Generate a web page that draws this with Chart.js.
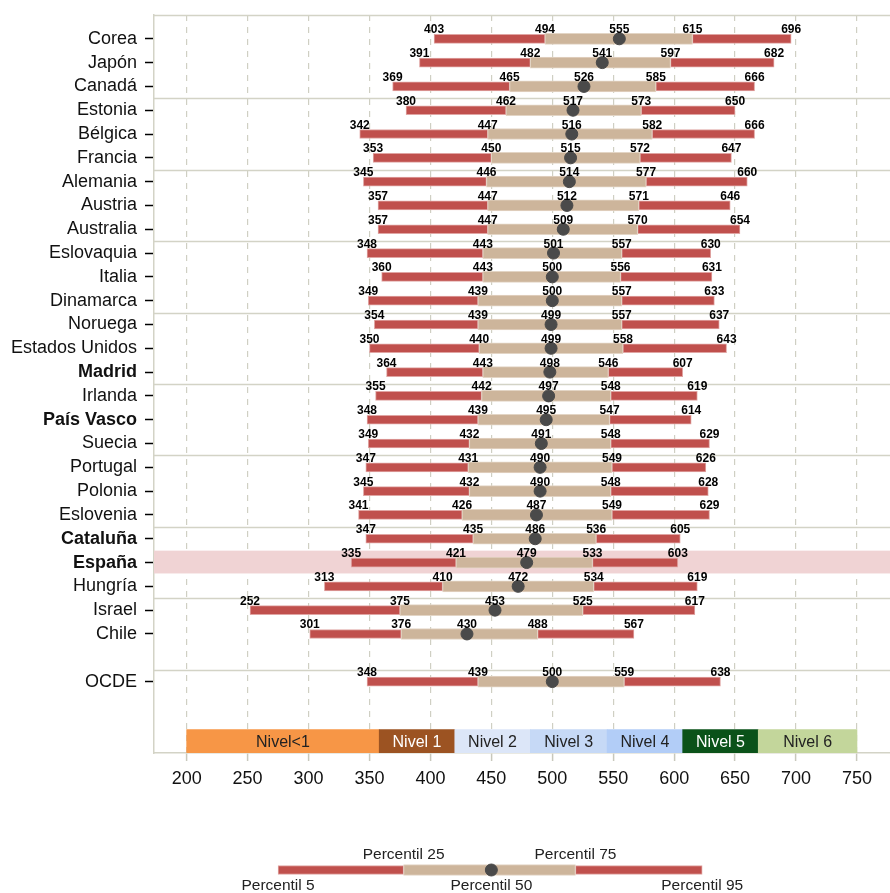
<!DOCTYPE html>
<html>
<head>
<meta charset="utf-8">
<script src="https://cdn.jsdelivr.net/npm/chart.js@4.4.1/dist/chart.umd.min.js"></script>
<style>
    html, body { margin: 0; padding: 0; background: #fff; }
    #wrap { position: relative; width: 890px; height: 893px; }
    #mainChart { position: absolute; left: 0; top: 0; }
    #legendChart { position: absolute; left: 0; top: 840px; }
</style>
</head>
<body>
<div id="wrap">
    <canvas id="mainChart" width="890" height="893"></canvas>
    <canvas id="legendChart" width="890" height="53"></canvas>
</div>
<script>
// Data
const countries = ['Corea', 'Japón', 'Canadá', 'Estonia', 'Bélgica', 'Francia', 'Alemania', 'Austria', 'Australia',
    'Eslovaquia', 'Italia', 'Dinamarca', 'Noruega', 'Estados Unidos', 'Madrid', 'Irlanda', 'País Vasco', 'Suecia',
    'Portugal', 'Polonia', 'Eslovenia', 'Cataluña', 'España', 'Hungría', 'Israel', 'Chile', 'OCDE'];
const rowPos = [0, 1, 2, 3, 4, 5, 6, 7, 8, 9, 10, 11, 12, 13, 14, 15, 16, 17, 18, 19, 20, 21, 22, 23, 24, 25, 27];
const boldRows = ['Madrid', 'País Vasco', 'Cataluña', 'España'];

const p5  = [403, 391, 369, 380, 342, 353, 345, 357, 357, 348, 360, 349, 354, 350, 364, 355, 348, 349, 347, 345, 341, 347, 335, 313, 252, 301, 348];
const p25 = [494, 482, 465, 462, 447, 450, 446, 447, 447, 443, 443, 439, 439, 440, 443, 442, 439, 432, 431, 432, 426, 435, 421, 410, 375, 376, 439];
const p50 = [555, 541, 526, 517, 516, 515, 514, 512, 509, 501, 500, 500, 499, 499, 498, 497, 495, 491, 490, 490, 487, 486, 479, 472, 453, 430, 500];
const p75 = [615, 597, 585, 573, 582, 572, 577, 571, 570, 557, 556, 557, 557, 558, 546, 548, 547, 548, 549, 548, 549, 536, 533, 534, 525, 488, 559];
const p95 = [696, 682, 666, 650, 666, 647, 660, 646, 654, 630, 631, 633, 637, 643, 607, 619, 614, 629, 626, 628, 629, 605, 603, 619, 617, 567, 638];

const levelNames = ['Nivel<1', 'Nivel 1', 'Nivel 2', 'Nivel 3', 'Nivel 4', 'Nivel 5', 'Nivel 6'];
const levelCuts = [200, 358, 420, 482, 545, 607, 669, 750];
const levelColors = ['#f79646', '#9c5322', '#dce6f8', '#c6d9f6', '#b2cdf7', '#0a5219', '#c3d69b'];
const levelTextColors = ['#222', '#fff', '#222', '#222', '#222', '#fff', '#222'];
const levelRow = 29.5;

const separatorRows = [-1, 2.5, 5.5, 8.5, 11.5, 14.5, 17.5, 20.5, 23.5, 26.5];
const xTicks = [200, 250, 300, 350, 400, 450, 500, 550, 600, 650, 700, 750];

const legendLabels = ['Percentil 5', 'Percentil 25', 'Percentil 50', 'Percentil 75', 'Percentil 95'];
const legendValues = [275, 378, 450, 519, 623];

const RED = '#c0504d';
const TAN = '#cdb59b';
const DOT = '#4a4a4a';
const FONT = '"Liberation Sans", Arial, sans-serif';
const X_MIN = 173.2, X_MAX = 777.1;

// background stuff: España highlight, top border, group separators
const backdrop = {
    id: 'backdrop',
    beforeDatasetsDraw(chart) {
        const { ctx, chartArea, scales: { y } } = chart;
        const i = countries.indexOf('España');
        const yc = y.getPixelForValue(rowPos[i]);
        const h = Math.abs(y.getPixelForValue(1) - y.getPixelForValue(0));
        ctx.save();
        ctx.fillStyle = '#f0d3d4';
        ctx.fillRect(chartArea.left, yc - h / 2, chartArea.right - chartArea.left, h - 1);
        ctx.strokeStyle = '#d3d3c6';
        ctx.lineWidth = 1.5;
        separatorRows.forEach(r => {
            const py = Math.round(y.getPixelForValue(r)) + 0.5;
            ctx.beginPath();
            ctx.moveTo(chartArea.left, py);
            ctx.lineTo(chartArea.right, py);
            ctx.stroke();
        });
        ctx.restore();
    }
};

// value labels above every bar + text in the level band
const valueLabels = {
    id: 'valueLabels',
    afterDatasetsDraw(chart) {
        const { ctx, scales: { x, y } } = chart;
        ctx.save();
        ctx.font = 'bold 12px ' + FONT;
        ctx.fillStyle = '#000';
        ctx.textAlign = 'center';
        ctx.textBaseline = 'alphabetic';
        countries.forEach((c, i) => {
            const py = y.getPixelForValue(rowPos[i]) - 5.5;
            [p5[i], p25[i], p50[i], p75[i], p95[i]].forEach(v => {
                ctx.fillText(String(v), x.getPixelForValue(v), py);
            });
        });
        ctx.font = '16px ' + FONT;
        ctx.textBaseline = 'middle';
        const ly = y.getPixelForValue(levelRow);
        levelNames.forEach((n, k) => {
            const cx = (x.getPixelForValue(levelCuts[k]) + x.getPixelForValue(levelCuts[k + 1])) / 2;
            ctx.fillStyle = levelTextColors[k];
            ctx.fillText(n, cx, ly + 1);
        });
        ctx.restore();
    }
};

function barData(lo, hi) {
    return countries.map((c, i) => ({ x: [lo[i], hi[i]], y: rowPos[i] }));
}

new Chart(document.getElementById('mainChart'), {
    type: 'bar',
    data: {
        datasets: [
            {
                label: 'P5-P25',
                data: barData(p5, p25),
                backgroundColor: RED,
                borderColor: '#e0a5a3',
                borderWidth: 1,
                borderSkipped: false,
                barThickness: 9,
                grouped: false,
                order: 3
            },
            {
                label: 'P75-P95',
                data: barData(p75, p95),
                backgroundColor: RED,
                borderColor: '#e0a5a3',
                borderWidth: 1,
                borderSkipped: false,
                barThickness: 9,
                grouped: false,
                order: 3
            },
            {
                label: 'P25-P75',
                data: barData(p25, p75),
                backgroundColor: TAN,
                borderColor: '#e3d5c5',
                borderWidth: 1,
                borderSkipped: false,
                barThickness: 11,
                grouped: false,
                order: 2
            },
            {
                type: 'scatter',
                label: 'P50',
                data: countries.map((c, i) => ({ x: p50[i], y: rowPos[i] })),
                backgroundColor: DOT,
                borderColor: DOT,
                pointRadius: 6,
                pointHoverRadius: 6,
                order: 1
            },
            {
                label: 'Niveles',
                data: levelNames.map((n, k) => ({ x: [levelCuts[k], levelCuts[k + 1]], y: levelRow })),
                backgroundColor: levelColors,
                borderWidth: 0,
                barThickness: 23,
                grouped: false,
                order: 4
            }
        ]
    },
    options: {
        indexAxis: 'y',
        responsive: false,
        animation: false,
        layout: { autoPadding: false, padding: { top: 15, left: 0, right: 0, bottom: 0 } },
        plugins: {
            legend: { display: false },
            tooltip: { enabled: false }
        },
        scales: {
            x: {
                type: 'linear',
                position: 'bottom',
                min: X_MIN,
                max: X_MAX,
                offset: false,
                afterBuildTicks: s => { s.ticks = xTicks.map(v => ({ value: v })); },
                afterFit: s => { s.height = 140; s.paddingLeft = 0; s.paddingRight = 0; },
                ticks: {
                    callback: v => String(v),
                    font: { size: 18, family: FONT },
                    color: '#111',
                    padding: 7,
                    maxRotation: 0
                },
                grid: {
                    offset: false,
                    color: '#cfcfc3',
                    lineWidth: 1.2,
                    tickColor: '#c8c8bc',
                    tickLength: 8,
                    tickWidth: 1.5
                },
                border: { display: true, color: '#d3d3c6', width: 1.5, dash: [6, 6] }
            },
            y: {
                type: 'linear',
                reverse: true,
                min: -1,
                max: 30,
                offset: false,
                afterBuildTicks: s => { s.ticks = rowPos.map(v => ({ value: v })); },
                afterFit: s => { s.width = 154; s.paddingTop = 0; s.paddingBottom = 0; },
                ticks: {
                    callback: (v, idx) => countries[idx],
                    font: ctx => ({
                        size: 18,
                        family: FONT,
                        weight: boldRows.includes(countries[ctx.index]) ? 'bold' : 'normal'
                    }),
                    color: '#111',
                    padding: 8,
                    autoSkip: false
                },
                grid: {
                    offset: false,
                    drawOnChartArea: false,
                    tickColor: '#000',
                    tickLength: 9,
                    tickWidth: 1.5
                },
                border: { display: true, color: '#d3d3c6', width: 1.5 }
            }
        }
    },
    plugins: [backdrop, valueLabels]
});

// legend: one sample bar with the percentile names
const legendText = {
    id: 'legendText',
    afterDatasetsDraw(chart) {
        const { ctx, scales: { x, y } } = chart;
        ctx.save();
        ctx.font = '15.5px ' + FONT;
        ctx.fillStyle = '#222';
        ctx.textAlign = 'center';
        ctx.textBaseline = 'middle';
        const yc = y.getPixelForValue(30);
        legendLabels.forEach((t, k) => {
            const above = k === 1 || k === 3;
            ctx.fillText(t, x.getPixelForValue(legendValues[k]), above ? yc - 15 : yc + 16);
        });
        ctx.restore();
    }
};

new Chart(document.getElementById('legendChart'), {
    type: 'bar',
    data: {
        datasets: [
            {
                data: [{ x: [legendValues[0], legendValues[1]], y: 30 }, { x: [legendValues[3], legendValues[4]], y: 30 }],
                backgroundColor: RED,
                borderColor: '#e0a5a3',
                borderWidth: 1,
                borderSkipped: false,
                barThickness: 9,
                grouped: false,
                order: 3
            },
            {
                data: [{ x: [legendValues[1], legendValues[3]], y: 30 }],
                backgroundColor: TAN,
                borderColor: '#e3d5c5',
                borderWidth: 1,
                borderSkipped: false,
                barThickness: 11,
                grouped: false,
                order: 2
            },
            {
                type: 'scatter',
                data: [{ x: legendValues[2], y: 30 }],
                backgroundColor: DOT,
                borderColor: DOT,
                pointRadius: 6,
                order: 1
            }
        ]
    },
    options: {
        indexAxis: 'y',
        responsive: false,
        animation: false,
        layout: { autoPadding: false, padding: { left: 154, right: 0, top: 0, bottom: 0 } },
        plugins: { legend: { display: false }, tooltip: { enabled: false } },
        scales: {
            x: { type: 'linear', min: X_MIN, max: X_MAX, display: false, offset: false },
            y: { type: 'linear', min: 0, max: 53, reverse: true, display: false, offset: false }
        }
    },
    plugins: [legendText]
});
</script>
</body>
</html>
